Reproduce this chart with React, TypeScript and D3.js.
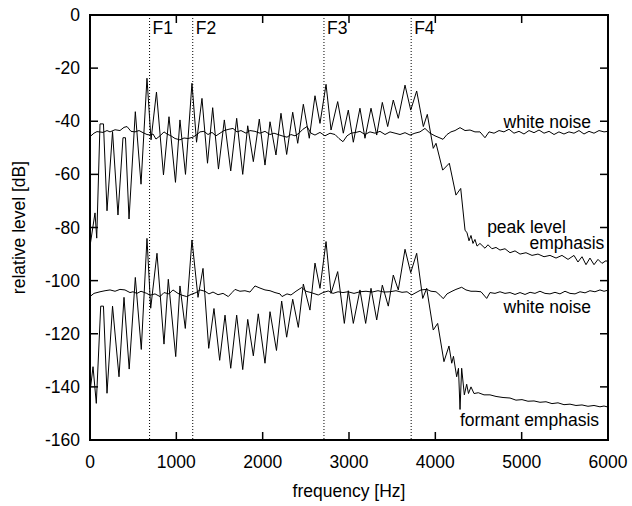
import React from "react";
import * as d3 from "d3";

// ---------- data (frequency in Hz, level in dB) ----------
const peakFreq = [0,58,78,116,156,197,261,324,382,411,452,525,591,660,707,770,851,915,990,1042,1106,1181,1234,1297,1361,1421,1488,1556,1630,1699,1769,1827,1892,1961,2027,2085,2154,2212,2278,2348,2406,2471,2540,2606,2664,2734,2792,2869,2934,2992,3050,3127,3185,3255,3321,3386,3448,3513,3571,3649,3715,3784,3861,3907,3976,4008,4085,4162,4239,4294,4344,4367,4390,4413,4436,4459,4483,4517,4575,4610,4656,4703,4749,4807,4865,4923,4981,5050,5120,5189,5259,5328,5398,5467,5537,5606,5652,5699,5745,5791,5838,5884,5930,5977,6000];
const peakDb = [-87,-74.5,-84,-41,-41,-73.7,-43.9,-75.3,-46.2,-46.2,-76.8,-36.4,-63.7,-23.8,-47,-29,-60.2,-38.3,-63,-39.5,-60,-25.7,-47.9,-31.4,-55.8,-34.9,-58,-39.5,-58.7,-38.9,-60,-41.7,-55.2,-39.2,-56.5,-40.2,-52.7,-37,-52.5,-36.6,-48.3,-33.6,-46.4,-30.4,-40.8,-26.1,-43.3,-32.6,-44.5,-35.8,-47.9,-35.1,-46.4,-35.1,-45.2,-32.9,-42,-32,-38.9,-26.4,-35.8,-28.6,-42,-37.4,-50.2,-48.3,-58.4,-55.8,-67.8,-65.3,-81,-82,-85,-83,-86,-84.5,-87,-86,-87.8,-86.5,-88,-87.5,-88.5,-88,-89.5,-88.8,-90,-89.5,-90.5,-90,-91,-90.5,-91.5,-90.5,-92,-90.5,-93,-91,-94,-91.5,-94,-92,-93.5,-92.5,-93];

const noiseUpFreq = [0,46,81,151,197,232,290,347,394,429,475,521,568,614,660,695,730,764,811,857,892,938,985,1042,1089,1135,1193,1239,1274,1320,1367,1413,1459,1506,1552,1610,1656,1703,1749,1807,1853,1911,1969,2027,2085,2131,2178,2224,2282,2328,2375,2421,2467,2514,2560,2606,2664,2722,2780,2838,2884,2930,2977,3023,3081,3127,3185,3243,3301,3359,3417,3475,3533,3591,3649,3707,3764,3822,3880,3938,3996,4054,4089,4135,4181,4228,4286,4344,4402,4459,4517,4575,4622,4680,4738,4795,4853,4911,4969,5027,5085,5143,5201,5259,5317,5375,5432,5490,5548,5606,5664,5722,5780,5838,5896,5954,6000];
const noiseUpDb = [-45.8,-44.5,-43.9,-44.2,-43.5,-44,-43.2,-43.5,-42.3,-42,-43.8,-44,-43.5,-44.3,-45,-45.2,-44.8,-46.7,-45.5,-44,-44.8,-45.5,-46.5,-47,-46.3,-46.5,-46,-45,-44,-43.8,-45,-44.2,-45.5,-44.5,-43.5,-43,-42.7,-44,-43.5,-44.5,-43.5,-43.8,-44.5,-43.8,-45,-44.5,-45,-45.5,-46,-45,-45.5,-44.5,-43,-42,-44.5,-45.2,-44.2,-45.5,-44.5,-45,-46.5,-47.7,-45.5,-44.5,-44.2,-43.8,-45,-44,-44.5,-43.8,-45,-44,-44.5,-45,-44.3,-45.2,-44.5,-44,-42.7,-44.5,-45.5,-46.3,-46.8,-45,-44,-43.5,-42.4,-43.5,-43.3,-44,-44,-46.2,-44,-44.5,-43.5,-44,-43,-44.5,-43.8,-44.8,-43.5,-44.3,-43.3,-44.5,-43.8,-45,-44,-44.8,-44,-44.5,-43.5,-44.8,-43.8,-44.5,-43.5,-44,-43.8];

const formantFreq = [0,35,73,124,156,197,261,336,394,454,525,594,660,703,776,857,907,993,1042,1104,1181,1251,1309,1375,1436,1502,1564,1630,1699,1769,1827,1892,1949,2027,2085,2160,2220,2278,2348,2413,2471,2548,2606,2664,2734,2792,2869,2946,2992,3050,3127,3193,3255,3321,3386,3455,3513,3571,3649,3715,3784,3854,3900,3976,4027,4100,4158,4190,4210,4247,4268,4286,4305,4336,4363,4384,4413,4448,4498,4564,4633,4703,4784,4865,4934,5004,5073,5143,5212,5282,5351,5421,5490,5560,5629,5699,5768,5838,5907,5954,6000];
const formantDb = [-142,-132.4,-146.2,-109.6,-109.6,-142.4,-109.6,-136.2,-106.3,-133.3,-98.8,-125.9,-84.1,-110.4,-89.7,-123.9,-99.5,-128.6,-102,-118,-84.7,-106.3,-95.4,-125.5,-110.5,-130,-113,-133,-113,-133.5,-114.6,-128.3,-112.5,-131.1,-111.7,-126.3,-107.7,-121.3,-107,-117.6,-101.3,-111.1,-93.4,-102.9,-85.3,-104.8,-96.6,-116.1,-103.8,-116.1,-103.5,-116.1,-102.9,-114.8,-101.7,-109.6,-97.9,-103.5,-88.2,-97,-89.7,-106.7,-102.9,-118.6,-116.1,-130.5,-124.6,-131.1,-128.5,-136.2,-133,-148.5,-133,-143,-139,-142.5,-140,-142.5,-142.2,-143,-143,-143.6,-144,-144.2,-145,-144.8,-145.4,-145.3,-145.8,-145.6,-146.3,-146,-146.7,-146.5,-147,-146.8,-147.3,-147,-147.5,-147.2,-147.6];

const noiseLoFreq = [0,46,116,174,232,290,347,405,463,498,544,591,657,695,753,811,857,915,961,1019,1066,1120,1170,1228,1274,1332,1378,1425,1483,1541,1602,1645,1680,1737,1795,1853,1911,1969,2027,2085,2143,2201,2224,2282,2328,2386,2452,2502,2560,2606,2644,2699,2760,2815,2873,2930,2988,3058,3127,3197,3266,3336,3405,3475,3544,3614,3672,3726,3788,3834,3900,3950,4008,4054,4092,4135,4193,4239,4305,4355,4413,4471,4529,4595,4633,4691,4749,4807,4865,4923,4981,5039,5097,5154,5212,5270,5328,5386,5444,5502,5560,5618,5676,5734,5791,5849,5907,5954,6000];
const noiseLoDb = [-106,-104.8,-104.2,-103.8,-103.5,-104,-103.3,-103.5,-104.5,-104.2,-104.8,-104,-104.8,-105.5,-105,-106,-104.5,-105,-103.5,-104.8,-105.5,-106,-105.2,-104.5,-103.5,-104,-105,-104.3,-105.3,-104.8,-106,-104.5,-103.3,-104,-103.8,-104.3,-102,-102.8,-103.5,-103.8,-104.5,-105,-106,-105,-105.4,-104,-102.6,-104,-104.5,-105,-105.4,-104.5,-103.9,-104.8,-104.2,-104.5,-104.2,-104.8,-104.2,-104,-104.3,-103.8,-104.3,-104.2,-103.8,-104.4,-104.2,-105.4,-104.3,-103.5,-103.3,-104,-104.2,-105.5,-106.8,-105,-104,-103.3,-102.5,-103.5,-104,-104,-104.2,-106.7,-104.5,-104.8,-104.2,-104.8,-104.5,-105.2,-104.5,-105.2,-104.4,-104.8,-104,-104.8,-105,-104.4,-105,-104,-104.8,-105,-104.2,-104.6,-103.8,-104.2,-103.5,-104,-103.6];

const formantLines = [690, 1190, 2710, 3720];
const formantNames = ["F1", "F2", "F3", "F4"];
const xTicks = [0, 1000, 2000, 3000, 4000, 5000, 6000];
const yTicks = [0, -20, -40, -60, -80, -100, -120, -140, -160];

const curveLabels = ["white noise", "peak level", "emphasis", "white noise", "formant emphasis"];
const curveLabelFreq = [4790, 4600, 5090, 4790, 4285];
const curveLabelDb = [-42.4, -82, -88.2, -112.3, -154.6];

// ---------- layout ----------
const W = 632, H = 506;
const L = 90, R = 608, T = 15, B = 440;
const FONT = "'Liberation Sans', Arial, Helvetica, sans-serif";
const FS = 17.5;

export default function App() {
  const x = d3.scaleLinear().domain([0, 6000]).range([L, R]);
  const y = d3.scaleLinear().domain([-160, 0]).range([B, T]);
  const mk = (fs: number[], ds: number[]) =>
    d3.line<number>().x((_, i) => x(fs[i])).y((_, i) => y(ds[i]))(fs) || "";
  const series = [
    mk(peakFreq, peakDb),
    mk(noiseUpFreq, noiseUpDb),
    mk(formantFreq, formantDb),
    mk(noiseLoFreq, noiseLoDb),
  ];
  const tl = 8;
  return (
    <svg width={W} height={H} style={{ position: "absolute", left: 0, top: 0, background: "#fff" }}
      fontFamily={FONT} fontSize={FS}>
      <rect x={0} y={0} width={W} height={H} fill="#fff" />
      {formantLines.map((f, i) => (
        <g key={"f" + i}>
          <line x1={x(f)} x2={x(f)} y1={T} y2={B} stroke="#000" strokeWidth={1} strokeDasharray="1,2" />
          <text x={x(f) + 3} y={34} fill="#000">{formantNames[i]}</text>
        </g>
      ))}
      {series.map((d, i) => (
        <path key={"s" + i} d={d} fill="none" stroke="#000" strokeWidth={1} strokeLinejoin="miter" />
      ))}
      {xTicks.map((t) => (
        <g key={"xt" + t}>
          <line x1={x(t)} x2={x(t)} y1={B} y2={B - tl} stroke="#000" strokeWidth={1.5} />
          <line x1={x(t)} x2={x(t)} y1={T} y2={T + tl} stroke="#000" strokeWidth={1.5} />
          <text x={x(t)} y={468} textAnchor="middle" fill="#000">{t}</text>
        </g>
      ))}
      {yTicks.map((t) => (
        <g key={"yt" + t}>
          <line x1={L} x2={L + tl} y1={y(t)} y2={y(t)} stroke="#000" strokeWidth={1.5} />
          <line x1={R} x2={R - tl} y1={y(t)} y2={y(t)} stroke="#000" strokeWidth={1.5} />
          <text x={80} y={y(t) + 6} textAnchor="end" fill="#000">{t}</text>
        </g>
      ))}
      <rect x={L} y={T} width={R - L} height={B - T} fill="none" stroke="#000" strokeWidth={2} />
      {curveLabels.map((s, i) => (
        <text key={"cl" + i} x={x(curveLabelFreq[i])} y={y(curveLabelDb[i])} fill="#000">{s}</text>
      ))}
      <text x={(L + R) / 2} y={497} textAnchor="middle" fill="#000">frequency [Hz]</text>
      <text transform={`translate(25,${(T + B) / 2}) rotate(-90)`} textAnchor="middle" fill="#000">relative level [dB]</text>
    </svg>
  );
}
